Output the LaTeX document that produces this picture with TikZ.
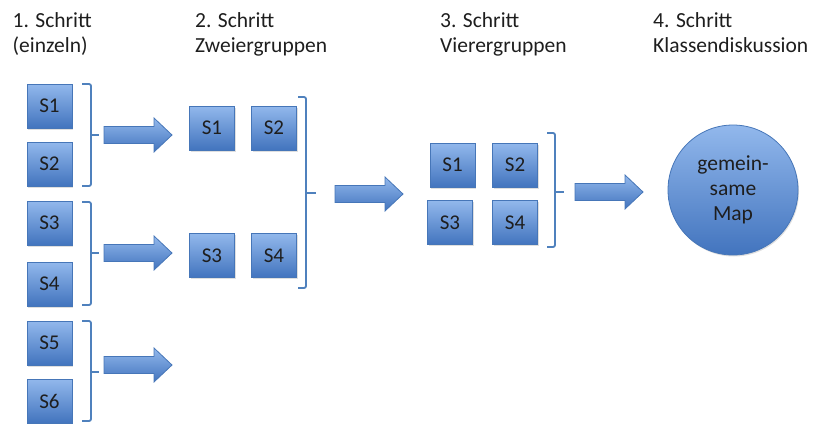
\documentclass[tikz,border=0pt]{standalone}
\usepackage{fontspec}
\setmainfont{Carlito}
\usetikzlibrary{shadows}
\definecolor{boxtop}{RGB}{146,184,236}
\definecolor{boxbot}{RGB}{66,116,190}
\definecolor{boxline}{RGB}{70,118,184}
\definecolor{brk}{RGB}{79,129,189}
\definecolor{txt}{RGB}{30,30,30}
\begin{document}
\begin{tikzpicture}[x=1pt,y=-1pt,
  sbox/.style={draw=boxline, line width=0.8pt, top color=boxtop, bottom color=boxbot,
    minimum width=45pt, minimum height=44pt, inner sep=0pt,
    font=\fontsize{21}{24}\selectfont, text=txt,
    drop shadow={shadow xshift=1pt, shadow yshift=-1.5pt, opacity=0.25}},
  title/.style={anchor=north west, align=left, font=\fontsize{21.5}{25}\selectfont, text=txt, inner sep=0pt},
  brace/.style={draw=brk, line width=1.8pt, rounded corners=2pt},
  barrow/.style={draw=boxline, line width=0.8pt, top color=boxtop, bottom color=boxbot},
  blockarrow/.pic={\path[barrow] (0,-8.5) -- (50,-8.5) -- (50,-17) -- (68,0) -- (50,17) -- (50,8.5) -- (0,8.5) -- cycle;}
]
\useasboundingbox (0,0) rectangle (813,423);

% titles
\node[title] (t1) at (12.5,12) {1. Schritt\\(einzeln)};
\node[title] (t2) at (195,12) {2. Schritt\\Zweiergruppen};
\node[title] (t3) at (440,12) {3. Schritt\\Vierergruppen};
\node[title] (t4) at (653,12) {4. Schritt\\Klassendiskussion};

% column 1
\node[sbox] (a1) at (49.5,106) {S1};
\node[sbox] (a2) at (49.5,164) {S2};
\node[sbox] (a3) at (49.5,223) {S3};
\node[sbox] (a4) at (49.5,284) {S4};
\node[sbox] (a5) at (49.5,343) {S5};
\node[sbox] (a6) at (49.5,401) {S6};

% column 2
\node[sbox] (b1) at (212,128) {S1};
\node[sbox] (b2) at (274,128) {S2};
\node[sbox] (b3) at (212,255.5) {S3};
\node[sbox] (b4) at (274,255.5) {S4};

% column 3
\node[sbox] (c1) at (452.5,165) {S1};
\node[sbox] (c2) at (515,165) {S2};
\node[sbox] (c3) at (450,222.5) {S3};
\node[sbox] (c4) at (515,222.5) {S4};

% circle
\node[circle, minimum size=130pt, inner sep=0pt, draw=boxline, line width=0.8pt,
  top color=boxtop, bottom color=boxbot, align=center, text=txt,
  font=\fontsize{21.5}{25}\selectfont,
  drop shadow={shadow xshift=1pt, shadow yshift=-1.5pt, opacity=0.25}] (map) at (733,190) {gemein-\\same\\Map};

% brackets
\draw[brace] (82,84) -- (91,84) -- (91,186) -- (82,186);
\draw[brace] (91,135) -- (99,135);
\draw[brace] (82,202) -- (91,202) -- (91,305) -- (82,305);
\draw[brace] (91,253) -- (99,253);
\draw[brace] (82,321) -- (91,321) -- (91,421) -- (82,421);
\draw[brace] (91,372) -- (99,372);
\draw[brace] (298,97) -- (306,97) -- (306,288) -- (298,288);
\draw[brace] (306,193) -- (316,193);
\draw[brace] (547,133) -- (555,133) -- (555,247) -- (547,247);
\draw[brace] (555,192) -- (564,192);

% block arrows
\pic (p1) at (104,135) {blockarrow};
\pic (p2) at (104,253) {blockarrow};
\pic (p3) at (104,365) {blockarrow};
\pic (p4) at (335,194) {blockarrow};
\pic (p5) at (575,192) {blockarrow};
\end{tikzpicture}
\end{document}
